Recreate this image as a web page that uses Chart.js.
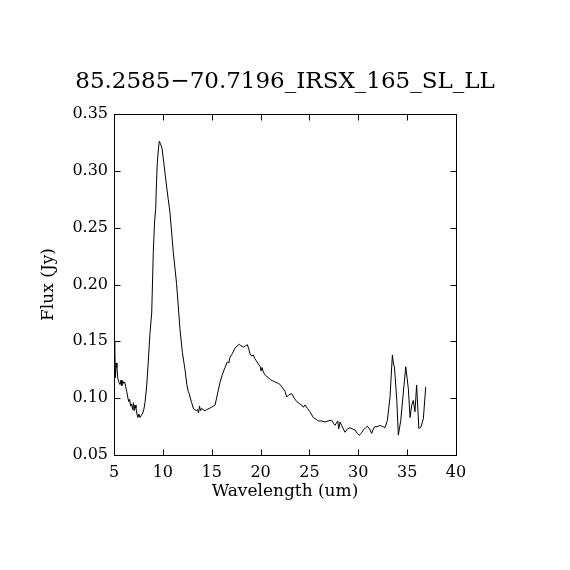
<!DOCTYPE html>
<html>
<head>
<meta charset="utf-8">
<title>85.2585-70.7196_IRSX_165_SL_LL</title>
<script src="https://cdn.jsdelivr.net/npm/chart.js@4.4.1/dist/chart.umd.min.js"></script>
<style>
  html, body { margin: 0; padding: 0; background: #fff; }
  canvas { display: block; }
</style>
</head>
<body>
<canvas id="spec" width="570" height="570"></canvas>
<script>
// spectrum
const wavelength = [
  5.00, 5.05, 5.10, 5.15, 5.22, 5.30, 5.40, 5.50, 5.62, 5.72,
  5.80, 5.90, 6.00, 6.10, 6.20, 6.30, 6.43, 6.50, 6.60, 6.70,
  6.80, 6.90, 7.00, 7.05, 7.15, 7.25, 7.35, 7.45, 7.55, 7.66,
  7.80, 7.95, 8.05, 8.17, 8.34, 8.50, 8.68, 8.86, 9.02, 9.15,
  9.27, 9.35, 9.43, 9.55, 9.64, 9.75, 9.91, 10.10, 10.22, 10.40,
  10.55, 10.73, 11.07, 11.40, 11.75, 12.00, 12.27, 12.45, 12.60, 12.70,
  12.78, 12.95, 13.12, 13.40, 13.55, 13.65, 13.75, 13.85, 13.97, 14.10,
  14.30, 14.50, 14.75, 15.00, 15.34, 15.50, 15.85, 16.10, 16.36, 16.60,
  16.75, 16.87, 17.10, 17.38, 17.60, 17.83, 18.00, 18.24, 18.45, 18.65,
  18.80, 18.92, 19.10, 19.25, 19.40, 19.55, 19.77, 19.95, 20.05, 20.15,
  20.28, 20.50, 20.80, 21.05, 21.30, 21.55, 21.82, 22.00, 22.16, 22.33,
  22.50, 22.67, 22.90, 23.19, 23.45, 23.70, 24.00, 24.20, 24.38, 24.55,
  24.80, 25.06, 25.40, 25.91, 26.20, 26.60, 26.90, 27.28, 27.45, 27.62,
  27.90, 28.00, 28.13, 28.30, 28.64, 28.90, 29.15, 29.40, 29.67, 29.90,
  30.08, 30.30, 30.52, 30.75, 30.93, 31.15, 31.37, 31.50, 31.65, 31.95,
  32.23, 32.50, 32.74, 32.98, 33.25, 33.49, 33.60, 33.70, 33.94, 34.10,
  34.35, 34.60, 34.86, 35.12, 35.30, 35.47, 35.63, 35.80, 35.97, 36.20,
  36.42, 36.66, 36.90
];
const flux = [
  0.150, 0.124, 0.140, 0.118, 0.131, 0.127, 0.117, 0.114, 0.112, 0.116,
  0.111, 0.115, 0.113, 0.114, 0.110, 0.106, 0.100, 0.097, 0.099, 0.093,
  0.095, 0.090, 0.096, 0.089, 0.094, 0.091, 0.086, 0.083, 0.086, 0.083,
  0.085, 0.087, 0.090, 0.096, 0.110, 0.131, 0.157, 0.175, 0.228, 0.255,
  0.267, 0.290, 0.307, 0.320, 0.326, 0.324, 0.320, 0.307, 0.298, 0.285,
  0.275, 0.263, 0.228, 0.201, 0.161, 0.140, 0.125, 0.112, 0.106, 0.104,
  0.101, 0.096, 0.091, 0.089, 0.090, 0.087, 0.093, 0.089, 0.091, 0.090,
  0.089, 0.090, 0.091, 0.092, 0.094, 0.100, 0.114, 0.121, 0.127, 0.132,
  0.131, 0.136, 0.139, 0.144, 0.146, 0.1475, 0.146, 0.145, 0.146, 0.147,
  0.143, 0.139, 0.137, 0.138, 0.135, 0.133, 0.130, 0.128, 0.124, 0.127,
  0.123, 0.120, 0.118, 0.116, 0.115, 0.114, 0.113, 0.112, 0.110, 0.108,
  0.106, 0.101, 0.103, 0.104, 0.100, 0.097, 0.095, 0.094, 0.092, 0.094,
  0.091, 0.088, 0.083, 0.080, 0.080, 0.079, 0.080, 0.0806, 0.078, 0.0762,
  0.080, 0.073, 0.079, 0.076, 0.070, 0.073, 0.074, 0.073, 0.072, 0.069,
  0.0674, 0.069, 0.072, 0.074, 0.0754, 0.073, 0.069, 0.072, 0.0747, 0.075,
  0.076, 0.075, 0.0742, 0.0806, 0.101, 0.138, 0.130, 0.1276, 0.098, 0.0675,
  0.0806, 0.104, 0.1276, 0.1085, 0.083, 0.094, 0.098, 0.088, 0.1115, 0.0733,
  0.0747, 0.082, 0.110
];
const xTicks = [5, 10, 15, 20, 25, 30, 35, 40];
const yTicks = [0.05, 0.10, 0.15, 0.20, 0.25, 0.30, 0.35];

const FONT = "'DejaVu Serif', 'Liberation Serif', serif";
const TICK = 6;

// box around the plot with inward ticks on all four sides
const frame = {
  id: 'frame',
  afterDatasetsDraw(chart){
    const {ctx, chartArea: a, scales} = chart;
    const l = Math.round(a.left) + 0.5, r = Math.round(a.right) + 0.5;
    const t = Math.round(a.top) + 0.5, b = Math.round(a.bottom) + 0.5;
    ctx.save();
    ctx.strokeStyle = '#000';
    ctx.lineWidth = 1;
    ctx.strokeRect(l, t, r - l, b - t);
    ctx.beginPath();
    xTicks.forEach(v=>{
      const p = Math.round(scales.x.getPixelForValue(v)) + 0.5;
      ctx.moveTo(p, b); ctx.lineTo(p, b - TICK);
      ctx.moveTo(p, t); ctx.lineTo(p, t + TICK);
    });
    yTicks.forEach(v=>{
      const p = Math.round(scales.y.getPixelForValue(v)) + 0.5;
      ctx.moveTo(l, p); ctx.lineTo(l + TICK, p);
      ctx.moveTo(r, p); ctx.lineTo(r - TICK, p);
    });
    ctx.stroke();
    ctx.restore();
  }
};

new Chart(document.getElementById('spec'), {
  type: 'line',
  data: {
    datasets: [{
      data: wavelength.map((w,i)=>({x: w, y: flux[i]})),
      borderColor: '#000',
      borderWidth: 1,
      pointRadius: 0,
      tension: 0,
      fill: false
    }]
  },
  options: {
    responsive: false,
    animation: false,
    devicePixelRatio: 1,
    layout: { padding: 0 },
    plugins: {
      legend: { display: false },
      tooltip: { enabled: false },
      title: {
        display: true,
        text: '85.2585\u221270.7196_IRSX_165_SL_LL',
        color: '#000',
        font: { family: FONT, size: 23, weight: 'normal', lineHeight: 1.2 },
        padding: { top: 68, bottom: 18.4 }
      }
    },
    scales: {
      x: {
        type: 'linear',
        min: 5, max: 40,
        afterFit(s){ s.height = 115; },
        afterBuildTicks(s){ s.ticks = xTicks.map(v=>({value: v})); },
        grid: { display: false, drawTicks: false, tickLength: 0 },
        border: { display: false },
        ticks: { color: '#000', padding: 8, maxRotation: 0, font: { family: FONT, size: 16 } },
        title: {
          display: true, text: 'Wavelength (um)', color: '#000',
          font: { family: FONT, size: 17 }, padding: { top: 0, bottom: 68 }
        }
      },
      y: {
        type: 'linear',
        position: 'left',
        min: 0.05, max: 0.35,
        afterFit(s){ s.width = 114; },
        afterBuildTicks(s){ s.ticks = yTicks.map(v=>({value: v})); },
        grid: { display: false, drawTicks: false, tickLength: 0 },
        border: { display: false },
        ticks: { color: '#000', padding: 6, font: { family: FONT, size: 16 },
                 callback: v => Number(v).toFixed(2) },
        title: {
          display: true, text: 'Flux (Jy)', color: '#000',
          font: { family: FONT, size: 17 }, padding: { top: 38, bottom: 0 }
        }
      },
      // empty right-hand axis, keeps the plot box where the reference has it
      yRight: {
        type: 'linear',
        position: 'right',
        afterFit(s){ s.width = 114; },
        grid: { display: false, drawTicks: false },
        border: { display: false },
        ticks: { display: false }
      }
    }
  },
  plugins: [frame]
});
</script>
</body>
</html>
